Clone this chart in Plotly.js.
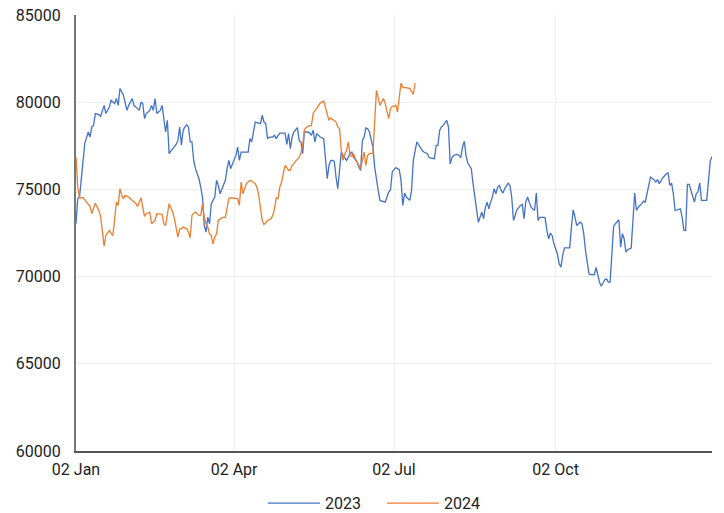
<!DOCTYPE html>
<html>
<head>
<meta charset="utf-8">
<script src="https://cdn.plot.ly/plotly-3.0.1.min.js"></script>
<style>html,body{margin:0;padding:0;background:#fff;}#chart{width:724px;height:513px;}</style>
</head>
<body>
<div id="chart"></div>
<script>
// Days counted from 2 Jan, and values, for each year
const days2023 = [0,1,2,4,5,7,8,9,10,11,13,14,16,17,19,20,22,23,24,25,26,27,29,30,32,33,35,36,37,38,39,40,42,43,44,45,46,48,49,50,51,52,53,54,56,57,58,59,60,61,62,63,64,65,66,67,68,70,71,72,73,74,75,76,77,78,79,80,81,82,83,84,85,86,87,88,89,90,91,92,93,94,96,98,99,100,101,102,104,105,106,107,108,109,110,112,113,114,115,116,119,120,121,122,123,124,126,127,128,129,130,132,133,134,135,136,137,138,139,141,142,143,144,145,146,147,148,149,150,151,152,153,154,156,157,158,160,161,162,163,164,165,166,167,168,169,170,171,172,173,174,176,177,178,179,180,181,182,184,185,186,187,188,190,191,192,194,195,197,198,200,201,202,204,205,206,207,208,209,210,211,212,213,214,215,217,218,219,220,221,222,223,225,226,227,229,230,231,232,233,234,235,236,237,238,239,240,241,242,243,244,246,247,248,249,250,251,253,254,255,256,257,258,259,261,262,263,264,266,267,268,269,270,271,272,274,275,276,277,278,279,281,282,283,284,285,286,287,288,289,290,291,292,293,295,296,297,298,299,300,301,302,303,304,305,306,307,309,310,311,312,313,314,316,317,318,319,320,322,323,324,325,326,327,329,330,331,332,334,335,336,337,338,339,340,341,343,344,345,346,347,348,349,350,351,352,353,354,355,356,359,360,361,362];
const values2023 = [73030,74480,74560,76850,77640,78290,78000,78580,78670,79350,79290,79190,79820,79350,79720,80110,79920,80210,79820,80780,80590,80400,79530,79820,80210,79820,79630,79530,80010,79920,79060,79350,79530,79820,79530,80210,79350,79530,79820,79150,78290,78960,77050,77200,77430,77580,77810,78580,77530,78390,78580,78710,78580,77720,77720,76660,76190,75610,75130,74560,72930,72550,73410,73030,74180,74370,74560,75520,75230,74750,75040,75230,75520,76190,76660,76190,76480,76660,76950,77430,76660,77140,77140,77140,77910,77720,78290,78860,78800,78770,79250,78860,78770,77910,78000,78000,78100,77910,78100,78230,78230,77580,78200,77340,78000,78290,78540,77810,77720,77050,78290,78290,78230,78100,78390,77720,78200,78100,78000,77910,76850,75610,76380,76660,76660,76610,75710,75040,76090,77140,76950,76760,76660,77050,77140,76850,76570,76280,76090,77810,78000,78520,78480,78290,77910,77430,76280,75520,74940,74370,74330,74270,74560,74850,74980,76000,76130,76250,76130,75520,74080,74790,74560,74370,74940,76660,77720,77530,77240,77140,77050,76820,76800,76760,77530,77530,78390,78580,78670,78800,78960,78580,76460,76820,76950,77010,76950,76820,77430,77760,76950,76510,76190,75330,74470,73120,73410,73700,73320,73980,74270,73890,74270,74560,75040,74750,75130,75230,74940,74790,75040,75360,75230,74560,73220,73610,73830,74080,74140,73320,74270,74560,74270,73980,73790,74790,73220,73400,73400,73380,72650,72170,72490,72360,71880,71310,70740,70540,71210,71650,71650,71650,72840,73830,73410,72930,73030,73120,73030,72450,71500,70720,70150,70120,70100,70530,70060,69680,69450,69680,69820,69870,69680,69680,71310,72880,73030,73260,71690,72460,72170,71400,71540,71640,73220,74790,73790,73980,74180,74330,74270,74750,75420,75710,75560,75420,75560,75330,75670,75800,75900,75940,75230,75360,74750,73790,73830,73890,73410,72650,72650,75290,75290,74940,74560,74270,74750,74850,75380,74370,74370,75710,76620,76890];

const days2024 = [0,1,2,4,6,8,9,11,12,13,14,15,16,17,19,20,21,22,23,24,25,26,27,28,30,32,34,35,37,38,39,40,42,43,45,46,48,49,50,51,53,54,55,56,57,58,59,60,61,63,64,65,66,67,68,70,71,72,73,74,75,76,77,78,79,80,81,82,83,85,86,87,88,90,92,93,94,95,96,97,99,100,102,103,104,105,106,107,108,109,111,112,113,114,115,116,117,118,119,120,121,122,123,124,125,127,128,129,130,131,132,134,135,136,137,138,139,141,142,143,144,145,146,148,149,150,151,152,153,154,155,156,157,158,159,160,161,162,163,164,165,166,167,168,169,171,172,173,174,175,176,177,178,179,180,181,182,183,184,185,186,188,190,191,192,193];
const values2024 = [76850,75130,74520,74520,74270,74020,73610,74210,74000,73790,73450,72650,71750,72360,72650,72460,72360,73320,74270,74080,75040,74660,74470,74660,74560,74370,74210,74020,74520,73980,73450,73610,73700,73030,73220,73610,73610,73570,73030,72930,74180,73980,73700,73320,72840,72260,72740,72740,72840,72740,72550,72230,73510,73640,73700,73510,73510,74180,73380,73030,72840,72450,72360,71880,72260,72460,73220,73320,73380,73410,73890,74470,74520,74500,74470,74080,75420,74750,75040,75330,75520,75480,75330,75130,74660,74020,73220,72990,73070,73220,73320,73510,73890,74520,74470,75130,75420,75890,76380,76250,76090,76090,76380,76480,76620,76820,77080,77530,78430,78540,78620,78670,79350,79530,79630,79820,79950,80070,79710,79440,78960,79100,79000,78860,78580,78480,77240,76660,77050,77240,77720,76950,76890,77050,76760,76570,76320,76190,76660,77140,76380,76950,77050,77050,77080,80680,80210,79820,80010,80210,79920,79530,79060,79630,79760,79760,79820,79440,80480,81100,80840,80840,80780,80590,80450,81100];

const tickDays = [0, 90, 181, 273];
const seriesNames = ['2023', '2024'];
const seriesColors = ['#4472C4', '#ED7D31'];

const base = Date.UTC(2023, 0, 2);
const toDate = d => new Date(base + d * 86400000).toISOString().slice(0, 10);

const traces = [
  {x: days2023.map(toDate), y: values2023, name: seriesNames[0], color: seriesColors[0]},
  {x: days2024.map(toDate), y: values2024, name: seriesNames[1], color: seriesColors[1]}
].map(s => ({
  x: s.x, y: s.y, name: s.name, type: 'scatter', mode: 'lines',
  line: {color: s.color, width: 1.3}, hoverinfo: 'skip'
}));

const allDays = days2023.concat(days2024);
const layout = {
  width: 724, height: 513,
  margin: {l: 76, r: 12, t: 15, b: 62, autoexpand: false},
  paper_bgcolor: '#fff', plot_bgcolor: '#fff',
  font: {family: 'Roboto, "Liberation Sans", sans-serif', size: 16, color: '#222'},
  showlegend: true,
  legend: {orientation: 'h', x: 0.481, xanchor: 'center', y: -0.12, yanchor: 'middle',
           font: {size: 16, color: '#222'}, entrywidth: 52, itemwidth: 52},
  xaxis: {
    type: 'date',
    range: [toDate(Math.min(...allDays)), toDate(Math.max(...allDays))],
    tickvals: tickDays.map(toDate), tickformat: '%d %b',
    showgrid: true, gridcolor: '#eeeeee', gridwidth: 1,
    showline: true, linecolor: '#555', linewidth: 1.5,
    ticks: '', zeroline: false, fixedrange: true, ticklabelstandoff: 3
  },
  yaxis: {
    range: [60000, 85000], dtick: 5000, tickformat: 'd',
    showgrid: true, gridcolor: '#eeeeee', gridwidth: 1,
    showline: true, linecolor: '#777', linewidth: 2,
    ticks: '', zeroline: false, fixedrange: true, ticklabelstandoff: 10
  }
};

Plotly.newPlot('chart', traces, layout, {displayModeBar: false, staticPlot: true});
</script>
</body>
</html>
